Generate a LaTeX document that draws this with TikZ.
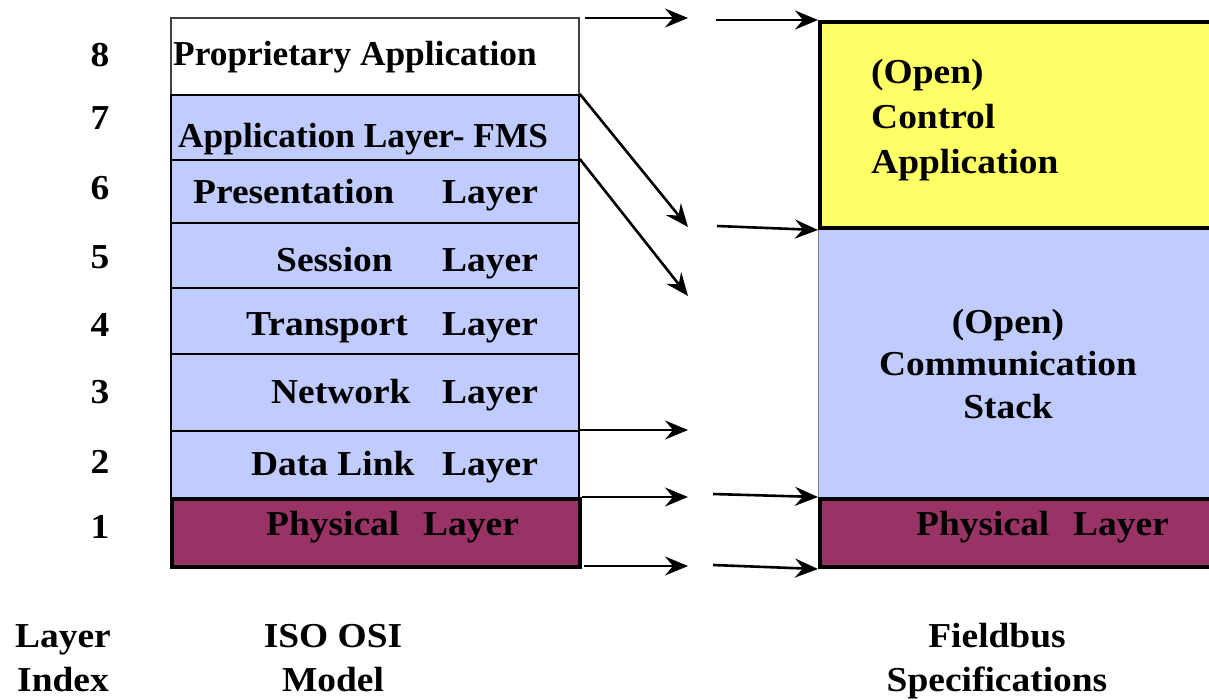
\documentclass[tikz,border=0pt]{standalone}
\usepackage{fontspec}
\setmainfont[FakeStretch=1.07]{Liberation Serif}
\newfontfamily\narrowserif[FakeStretch=1.01]{Liberation Serif}
\usetikzlibrary{arrows.meta}
\definecolor{lblue}{RGB}{192,204,255}
\definecolor{lyellow}{RGB}{255,255,102}
\definecolor{maroonc}{RGB}{153,51,102}
\begin{document}
\begin{tikzpicture}[x=1pt,y=-1pt,
  stk/.style={anchor=north west, inner sep=0pt, minimum width=408pt, draw=black, line width=1.8pt, fill=lblue},
  rstk/.style={anchor=north west, inner sep=0pt, minimum width=394pt},
  thickbox/.style={draw=black, line width=4pt},
  txt/.style={font=\bfseries\fontsize{35}{42}\selectfont, inner sep=0pt, anchor=base west},
  ntxt/.style={font=\narrowserif\bfseries\fontsize{35}{42}\selectfont, inner sep=0pt, anchor=base west},
  ctxt/.style={font=\bfseries\fontsize{35}{42}\selectfont, inner sep=0pt, anchor=base},
  arr/.style={line width=2.6pt, -{Stealth[length=23pt,width=19pt,inset=8pt]}}]
\useasboundingbox (0,0) rectangle (1209,699);
% left stack
\node[stk, fill=white, draw=black!75, minimum height=77pt] (l8) at (170,17) {};
\node[stk, minimum height=65pt] (l7) at (170,94) {};
\node[stk, minimum height=63pt] (l6) at (170,159) {};
\node[stk, minimum height=65pt] (l5) at (170,222) {};
\node[stk, minimum height=66pt] (l4) at (170,287) {};
\node[stk, minimum height=77pt] (l3) at (170,353) {};
\node[stk, minimum height=67pt] (l2) at (170,430) {};
\node[stk, thickbox, fill=maroonc, minimum height=68pt] (l1) at (170,497) {};
% right stack
\node[rstk, fill=lblue, draw=black!50, line width=1.2pt, minimum height=271pt] (rb) at (818,226) {};
\node[rstk, thickbox, fill=lyellow, minimum height=206pt] (ra) at (818,20) {};
\node[rstk, thickbox, fill=maroonc, minimum height=68pt] (rp) at (818,497) {};
% layer texts
\node[ntxt] (t8) at (173,65) {Proprietary Application};
\node[ntxt] (t7) at (178,147) {Application Layer- FMS};
\node[txt] (t6) at (193,203) {Presentation};
\node[txt] (t6b) at (442,203) {Layer};
\node[txt] (t5) at (276,271) {Session};
\node[txt] (t5b) at (442,271) {Layer};
\node[txt] (t4) at (246,335) {Transport};
\node[txt] (t4b) at (442,335) {Layer};
\node[txt] (t3) at (271,403) {Network};
\node[txt] (t3b) at (442,403) {Layer};
\node[txt] (t2) at (251,475) {Data Link};
\node[txt] (t2b) at (442,475) {Layer};
\node[txt] (t1) at (266,535) {Physical};
\node[txt] (t1b) at (423,535) {Layer};
% right texts
\node[txt] (ra1) at (871,83) {(Open)};
\node[txt] (ra2) at (871,128) {Control};
\node[txt] (ra3) at (871,173) {Application};
\node[ctxt] (rb1) at (1008,333) {(Open)};
\node[ctxt] (rb2) at (1008,375) {Communication};
\node[ctxt] (rb3) at (1008,418) {Stack};
\node[txt] (rp1) at (916,535) {Physical};
\node[txt] (rp2) at (1073,535) {Layer};
% indices
\node[ctxt] (n8) at (100,66) {8};
\node[ctxt] (n7) at (100,129) {7};
\node[ctxt] (n6) at (100,199) {6};
\node[ctxt] (n5) at (100,268) {5};
\node[ctxt] (n4) at (100,336) {4};
\node[ctxt] (n3) at (100,403) {3};
\node[ctxt] (n2) at (100,473) {2};
\node[ctxt] (n1) at (100,538) {1};
% bottom captions
\node[ctxt] (c1a) at (63,647) {Layer};
\node[ctxt] (c1b) at (63,691) {Index};
\node[ctxt] (c2a) at (333,647) {ISO OSI};
\node[ctxt] (c2b) at (333,691) {Model};
\node[ctxt] (c3a) at (997,647) {Fieldbus};
\node[ctxt] (c3b) at (997,691) {Specifications};
% arrows
\coordinate (a1s) at (585,18);
\coordinate (a1e) at (688,18);
\draw[arr] (a1s) -- (a1e);
\coordinate (b1s) at (716,20);
\draw[arr] (b1s) -- (ra.north west);
\coordinate (a2e) at (688,227);
\draw[arr] (l7.north east) -- (a2e);
\coordinate (a3e) at (688,296);
\draw[arr] (l6.north east) -- (a3e);
\coordinate (b2s) at (717,226);
\draw[arr] (b2s) -- (ra.south west);
\coordinate (a5e) at (688,430);
\draw[arr] (l2.north east) -- (a5e);
\coordinate (a6e) at (688,497);
\draw[arr] (l1.north east) -- (a6e);
\coordinate (b6s) at (713,494);
\draw[arr] (b6s) -- (rp.north west);
\coordinate (a7s) at (584,566);
\coordinate (a7e) at (688,566);
\draw[arr] (a7s) -- (a7e);
\coordinate (b7s) at (713,565);
\draw[arr] (b7s) -- (rp.south west);
\end{tikzpicture}
\end{document}
